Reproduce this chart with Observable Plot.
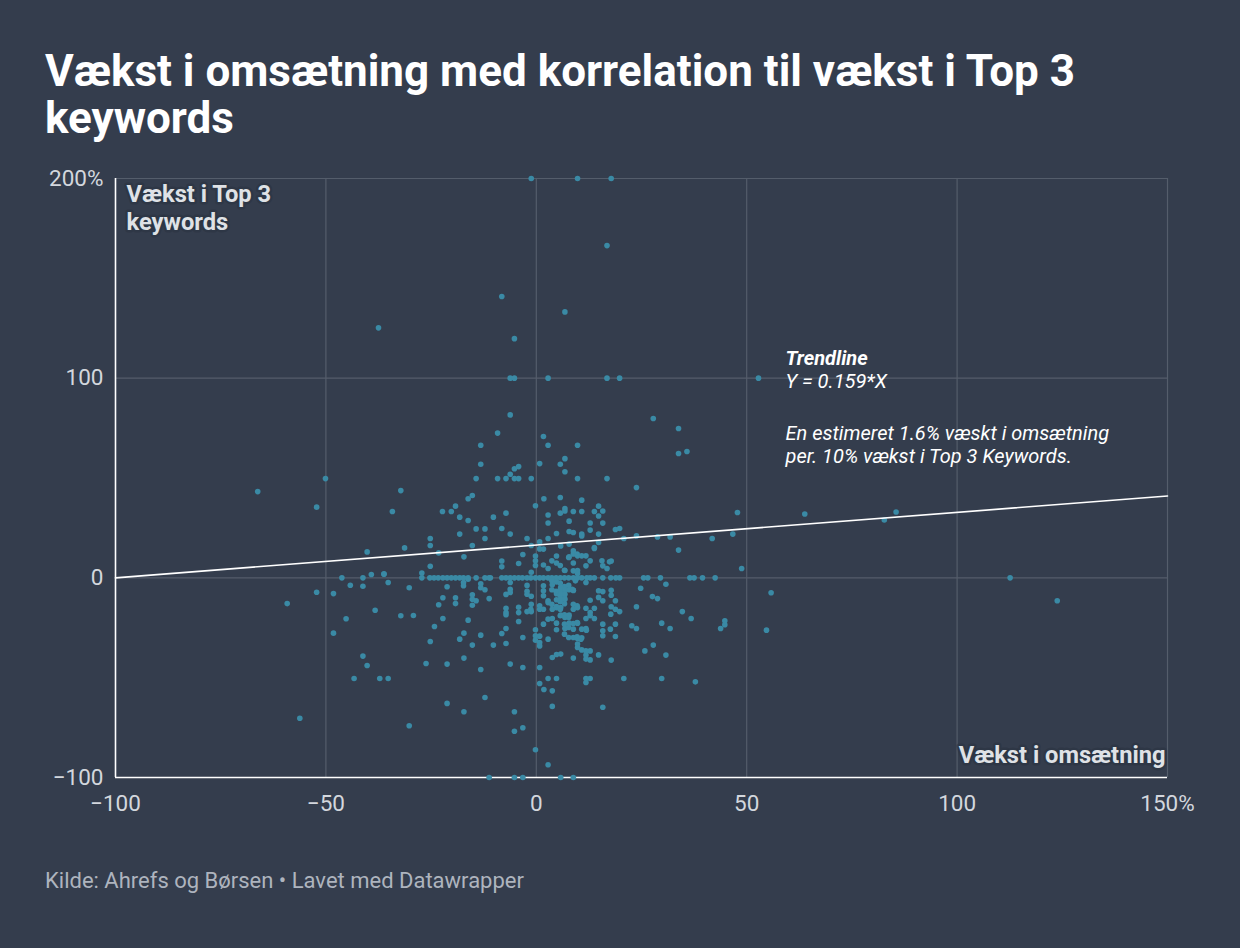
<!DOCTYPE html>
<html>
<head>
<meta charset="utf-8">
<script src="https://cdn.jsdelivr.net/npm/d3@7"></script>
<script src="https://cdn.jsdelivr.net/npm/@observablehq/plot@0.6"></script>
<style>
  html, body { margin: 0; padding: 0; background: #343d4d; width: 1240px; height: 948px; overflow: hidden; }
  body { position: relative; font-family: Roboto, "Noto Sans", sans-serif; }
  #title { position: absolute; left: 45px; top: 48px; width: 1100px; margin: 0; color: #ffffff;
           font-size: 44px; font-weight: 700; line-height: 47px; }
  #chart { position: absolute; left: 0; top: 150px; }
  #footer { position: absolute; left: 45px; top: 868px; color: #aeb4be; font-size: 22px; }
</style>
</head>
<body>
<h1 id="title">Vækst i omsætning med korrelation til vækst i Top 3 keywords</h1>
<div id="chart"></div>
<div id="footer">Kilde: Ahrefs og Børsen • Lavet med Datawrapper</div>
<script>
// Axis ticks
const xTicks = [-100, -50, 0, 50, 100, 150];
const xTickLabels = ["−100", "−50", "0", "50", "100", "150%"];
const yTicks = [-100, 0, 100, 200];
const yTickLabels = ["−100", "0", "100", "200%"];

// Trendline endpoints (x: vækst i omsætning, y: vækst i Top 3 keywords)
const trendX = [-100, 150];
const trendY = [0, 41];

// Points sitting on exact rows
const zeroRowX = [-46.2,-41.2,-27.2,-25.3,-24.3,-23.3,-22.2,-21.2,-20.2,-19.2,-18.2,-17.3,-16.2,-14.3,-12.2,-11.2,-10.9,-8.2,-7.2,-6.2,-5.2,-4.2,-3.3,-2.2,-1.3,-0.2,0.8,1.7,2.8,3.7,4.7,5.7,6.7,7.7,8.8,9.8,10.8,12,12.8,13.8,15.8,17.7,18.9,19.8,25.5,26.5,29.5,36.5,37.5,39.5,42.5,112.6];
const hundredRowX = [-6.2,-5.2,2.8,16.8,19.8,52.8];
const topRowX = [-1.2,9.8,17.8];
const bottomRowX = [-11.2,-5.2,-3.2,5.8,8.8];

// Scattered points [omsætning, top3]
const upperLeft = [[-6.2,81.6],[-9.2,72.5],[1.7,70.8],[2.8,66.4],[-13.2,66.4],[-13.2,56.9],[0.8,57.2],[5.7,56.9],[-5.2,54.6],[-4.2,55.7],[-6.2,51.9],[-14.3,49.7],[-9.2,49.7],[-7.2,49.7],[-5.2,49.7],[-4.2,49.7],[-1.2,49.7],[-32.2,43.7],[-15.2,41.2],[-16.2,39.6],[1.8,39.6],[5.7,40.2],[-34.2,33.2],[-22.3,33.2],[-20.2,33.2],[-19.2,35.9],[-0.2,36.1],[-18.2,30.4],[-16.2,28.7],[-10.2,30.4],[-7.2,32.4],[2.8,31.5],[2.8,27.5],[5.7,32.4],[-14.3,24.5],[-12.2,24.5],[-8.2,24.7],[-18.2,21.9],[-12.2,19.7],[-6.2,21.9],[-25.2,19.7],[-25.2,16.2],[-31.3,15.0],[-23.2,12.5],[-15.2,16.2],[-17.2,10.5],[-25.2,5.8],[-36.2,2.0],[-27.2,2.4],[-2.2,19.7],[-1.2,16.2],[0.8,18.0],[0.8,14.5],[2.8,19.7],[4.8,22.2],[-3.2,11.7],[-0.2,10.9],[-0.2,8.5],[-0.2,6.2],[-4.2,7.2],[-1.2,2.8],[1.7,6.4],[2.8,4.7],[3.7,8.5],[4.8,10.9],[5.7,6.2],[-8.2,8.4],[-8.2,5.5]];
const upperRight = [[27.8,79.8],[33.8,74.8],[33.8,62.3],[35.8,63.3],[9.8,66.4],[6.8,59.7],[6.8,53.1],[9.8,49.7],[16.8,49.7],[23.8,45.2],[10.8,38.9],[6.8,34.7],[6.8,33.5],[8.8,33.2],[10.8,33.2],[13.8,33.2],[14.8,35.9],[15.8,33.5],[14.8,31],[7.8,28.4],[12.8,27.5],[15.8,27.4],[12.8,23.9],[7.8,23.2],[8.8,22.7],[10.8,21.9],[10.8,21],[14.8,21.9],[18.8,24.2],[19.8,24.7],[20.8,19.7],[23.8,21],[28.8,20.5],[31.8,20.5],[41.8,19.7],[46.7,21.9],[33.8,13.9],[14.8,17.7],[13.8,14.7],[5.8,16],[8.8,13.5],[8.8,11.9],[9.8,11],[10.8,11],[11.8,11],[7.8,10.5],[12.8,8.5],[17.8,8.4],[4.8,7.4],[8.8,7.4],[11.8,6],[15.8,6],[16.8,4.7],[6.8,3.7],[9.8,3.7],[9.8,2.2],[7.8,16.9],[1.7,14.4],[13.8,15.2],[17.4,8],[15.6,8.5],[6.7,3.8],[8.8,3.5],[7.7,10.2],[9.7,11.9]];
const outer = [[47.8,32.7],[63.8,32],[82.7,29],[85.5,33],[48.8,4.7],[55.8,-7.5],[54.7,-26.2],[123.8,-11.5],[-66.2,43.2],[-50.1,49.7],[-52.2,35.4],[-40.2,13],[-39.2,1.7],[-36.2,1.8],[-35.2,-2.3],[-44.2,-3.7],[-41.2,-4.2],[-52.2,-7.2],[-48.2,-7.9],[-59.2,-12.9],[-38.3,-16.2],[-45.2,-20.5],[-48.2,-27.7],[-41.2,-39.2],[-40.2,-43.9],[-43.3,-50.4],[-37.2,-50.4],[-35.2,-50.4],[-56.2,-70.3],[16.8,166.4],[-8.2,140.9],[6.8,133.2],[-5.2,119.8],[-37.5,125.2]];
const lowerLeft = [[-30.2,-5],[-21.2,-4.5],[-22.2,-10],[-23.2,-13.5],[-19.2,-10],[-19.2,-12.9],[-17.3,-2.3],[-17.3,-4],[-16.2,-0.7],[-15.2,-8.5],[-15.2,-10.7],[-15.2,-13.7],[-14.3,-11.5],[-13.2,-3],[-13.2,-5],[-12.2,-6],[-11.2,-10.4],[-7.2,-8.3],[-6.2,-7.3],[-6.2,-2.3],[-7.2,-15.2],[-7.2,-17.4],[-7.2,-18.5],[-4.2,-14.7],[-4.2,-17.4],[-2.2,-3.8],[-2.2,-6.7],[-1.2,-9.2],[-1.2,-13.2],[-2.2,-16.9],[-1.2,-16.9],[-4.2,-21.9],[-7.2,-25.4],[-8.2,-27.9],[-7.2,-32.9],[-3.2,-29.9],[-0.2,-26],[-0.2,-31.2],[0.8,-29.2],[0.8,-32.4],[0.8,-34.1],[2.8,-30.7],[-16.2,-21.2],[-22.2,-20.4],[-24.2,-24.4],[-32.2,-19],[-29.2,-18.9],[-25.2,-31.9],[-18.2,-30.7],[-17.2,-27.7],[-15.2,-33.7],[-13.2,-28.7],[-10.2,-33.7],[-17.2,-40.2],[-26.2,-42.9],[-21.2,-43.2],[-13.2,-45.9],[-6.2,-43.2],[-3.2,-44.9],[0.8,-44.9],[2.8,-50.4],[4.8,-50.4],[0.8,-52.9],[1.8,-55.9],[3.8,-56.6],[3.8,-64.4],[-12.2,-59.9],[-21.2,-62.9],[-17.2,-67.1],[-5.2,-67.1],[-30.2,-74.1],[-5.2,-76.8],[-3.2,-75.1],[-0.2,-86.1],[2.8,-93.6],[1.7,-4],[3.8,-3.5],[0.8,-14],[1.7,-15.7],[2.8,-12.4],[3.8,-15.7],[4.8,-14.9],[1.7,-23.2],[2.8,-20.7],[3.8,-20.4],[4.8,-22.7],[3.8,-39.9],[4.8,-38.4],[-6.2,-5.7],[-2.2,-8.2],[-1.3,-15.7],[-0.2,-29],[1.7,-9],[1.7,-6.5],[0.8,-15.7],[3.7,-1.5]];
const lowerRight = [[3.7,-6],[4.8,-8],[4.8,-11],[5.7,-9],[5.7,-12],[6.7,-10],[5.7,-6],[6.7,-13],[2.8,-11.5],[3.7,-13.2],[5.7,-15.7],[5.7,-19],[6.7,-18.5],[7.7,-19.9],[8.8,-15.7],[9.7,-14],[6.7,-23.2],[7.7,-24.9],[8.8,-22.9],[8.8,-25.7],[6.7,-28.2],[7.7,-29.9],[9.7,-29.5],[10.6,-30.7],[9.7,-22.4],[10.8,-25.7],[11.9,-26.2],[17.7,-18.2],[18.8,-15.7],[18.8,-11.5],[15.8,-11.5],[15.8,-23.2],[15.8,-26.5],[17.6,-25.7],[18.8,-23.2],[8.5,-5.7],[9.3,-1.5],[4.8,-2],[5.7,-2.7],[6.7,-4.4],[7.7,-3.7],[8.8,-6.2],[6.7,-7],[11.8,-2.3],[30.8,-3.2],[24.8,-5.2],[14.8,-6.5],[15.8,-6.9],[17.8,-6.2],[17.8,-8.7],[14.8,-9.8],[5.8,-4.9],[6.8,-5.7],[7.8,-6],[8.8,-6.3],[5.8,-8.2],[6.8,-8.2],[5.8,-10.7],[6.8,-10.7],[4.7,-6.7],[27.6,-9.4],[28.8,-10.4],[12.8,-11.2],[8.8,-13.2],[9.8,-14.9],[4.8,-14.4],[5.8,-14.9],[17.8,-14.5],[19.8,-16.9],[23.8,-14.5],[34.7,-16.9],[36.8,-20.4],[11.8,-15.2],[12.8,-17.4],[13.8,-15.2],[11.8,-20.4],[13.8,-20.4],[12.8,-19],[5.8,-18.7],[6.8,-19.9],[7.8,-18.7],[4.8,-26],[7.8,-22.7],[9.8,-22.7],[6.8,-25.4],[11.8,-25.4],[15.8,-29],[18.8,-29.4],[22.7,-24],[23.8,-25.4],[29.8,-22.7],[31.8,-25.4],[44.8,-21.5],[44.8,-23.5],[43.8,-25.4],[8.8,-29.9],[9.8,-30.4],[10.8,-30],[9.8,-33.2],[9.8,-34.9],[10.8,-36.1],[11.8,-36.6],[12.8,-36.6],[11.8,-38.7],[11.8,-40.7],[12.8,-41.1],[5.8,-38.2],[8.8,-40.2],[14.8,-38.6],[17.8,-41.2],[25.8,-36.6],[27.8,-33.7],[30.8,-38.7],[11.8,-50.4],[12.8,-50.4],[11.8,-52.4],[20.8,-50.4],[29.8,-50.4],[37.8,-52.1],[15.8,-64.8]];

const points = [
  ...zeroRowX.map(x => ({x, y: 0})),
  ...hundredRowX.map(x => ({x, y: 100})),
  ...topRowX.map(x => ({x, y: 200})),
  ...bottomRowX.map(x => ({x, y: -100})),
  ...[...upperLeft, ...upperRight, ...outer, ...lowerLeft, ...lowerRight].map(([x, y]) => ({x, y}))
];
const trend = trendX.map((x, i) => ({x, y: trendY[i]}));

const halo = {stroke: "#2a3240", strokeWidth: 5, strokeOpacity: 0.55};

const chart = Plot.plot({
  width: 1240,
  height: 700,
  marginTop: 28,
  marginBottom: 73,
  marginLeft: 115,
  marginRight: 73,
  style: {background: "transparent", color: "#d3d7dd", fontFamily: "Roboto, sans-serif", fontSize: "22.5px", overflow: "visible"},
  x: {domain: [-100, 150]},
  y: {domain: [-100, 200]},
  marks: [
    Plot.gridX(xTicks.filter(d => d > -100), {stroke: "#545d6b", strokeOpacity: 1, strokeWidth: 1.2}),
    Plot.gridY(yTicks.filter(d => d > -100), {stroke: "#545d6b", strokeOpacity: 1, strokeWidth: 1.2}),
    Plot.axisX({ticks: xTicks, tickSize: 0, tickPadding: 18, label: null, tickFormat: d => xTickLabels[xTicks.indexOf(d)], fill: "#d3d7dd"}),
    Plot.axisY({ticks: yTicks, tickSize: 0, tickPadding: 12, label: null, tickFormat: d => yTickLabels[yTicks.indexOf(d)], fill: "#d3d7dd"}),
    Plot.ruleX([-100], {stroke: "#ffffff", strokeWidth: 1.6}),
    Plot.ruleY([-100], {stroke: "#ffffff", strokeWidth: 1.6}),
    Plot.dot(points, {x: "x", y: "y", r: 2.8, fill: "#3a8aa5", stroke: null}),
    Plot.line(trend, {x: "x", y: "y", stroke: "#ffffff", strokeWidth: 1.6}),
    Plot.text(["Vækst i Top 3\nkeywords"], {frameAnchor: "top-left", textAnchor: "start", lineAnchor: "top", dx: 11, dy: 4, fontSize: 23.7, fontWeight: 700, lineHeight: 1.18, fill: "#dfe2e6", ...halo}),
    Plot.text(["Vækst i omsætning"], {frameAnchor: "bottom-right", textAnchor: "end", lineAnchor: "bottom", dx: -2, dy: -15, fontSize: 23.7, fontWeight: 700, fill: "#dfe2e6", ...halo}),
    Plot.text(["Trendline"], {frameAnchor: "top-left", textAnchor: "start", lineAnchor: "top", dx: 670, dy: 172, fontSize: 20, fontWeight: 700, fontStyle: "italic", fill: "#ffffff"}),
    Plot.text(["Y = 0.159*X"], {frameAnchor: "top-left", textAnchor: "start", lineAnchor: "top", dx: 670, dy: 195, fontSize: 20, fontStyle: "italic", fill: "#ffffff"}),
    Plot.text(["En estimeret 1.6% væskt i omsætning\nper. 10% vækst i Top 3 Keywords."], {frameAnchor: "top-left", textAnchor: "start", lineAnchor: "top", dx: 670, dy: 245, fontSize: 20, fontStyle: "italic", lineHeight: 1.15, fill: "#ffffff"})
  ]
});
document.getElementById("chart").appendChild(chart);
</script>
</body>
</html>
